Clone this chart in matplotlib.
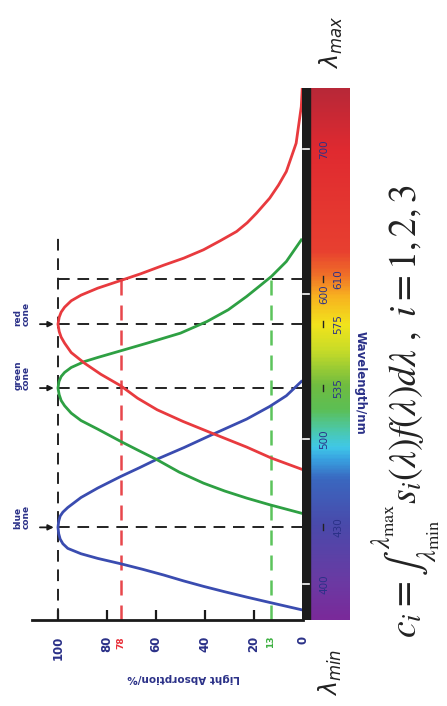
import numpy as np
import matplotlib.pyplot as plt
from matplotlib.colors import LinearSegmentedColormap

# cone sensitivity curves (wavelength nm, absorption %)
blue_wl = [382.1, 387.1, 390.8, 394.5, 398.2, 402.0, 406.0, 410.0, 413.8, 417.5, 420.7, 424.4, 427.6, 430.8,
           434.5, 438.9, 443.2, 446.7, 449.4, 452.6, 459.5, 466.0, 474.0, 480.0, 486.0, 494.0, 502.8,
           513.6, 522.3, 529.7, 539.5]
blue_abs = [0.7, 13.6, 23.0, 32.0, 40.6, 48.8, 56.8, 65.5, 74.4, 83.8, 90.6, 96.0, 98.0, 99.1,
            99.7, 100, 99.7, 99.1, 98.0, 96.0, 90.6, 83.8, 74.4, 66.8, 59.5, 48.5, 37.2,
            23.0, 13.6, 6.8, 0.7]

green_wl = [448.7, 454.5, 459.1, 464.0, 469.4, 477.0, 485.5, 492.0, 498.2, 506.7, 512.6, 517.7, 522.8,
            526.4, 530.4, 535.0, 539.5, 543.0, 545.8, 549.2, 553.3, 556.1, 560.7, 566.0, 572.9, 580.9,
            589.0, 598.2, 605.0, 612.0, 622.3, 637.2]
green_abs = [0.7, 13.6, 23.0, 32.0, 40.6, 50.5, 59.5, 67.2, 74.4, 83.8, 90.6, 94.6, 97.3,
             98.7, 99.5, 100, 99.6, 98.7, 97.3, 94.6, 89.2, 83.8, 74.4, 63.6, 50.0, 39.2,
             30.5, 23.0, 18.0, 12.9, 6.8, 0.7]

red_wl = [479.1, 486.7, 494.3, 503.9, 512.0, 520.0, 528.0, 536.6, 544.5, 552.2, 559.5, 566.0, 570.1,
          574.0, 579.1, 583.9, 587.4, 590.8, 595.2, 599.1, 603.9, 609.2, 613.8, 619.8, 624.6, 630.4,
          636.6, 643.0, 649.0, 655.6, 666.0, 675.0, 684.4, 703.9, 729.2, 742]
red_abs = [0.7, 12.9, 23.0, 37.2, 49.0, 59.5, 67.5, 74.4, 82.5, 89.2, 94.6, 97.3, 98.7,
           99.5, 100, 99.5, 98.7, 97.3, 94.6, 90.6, 83.8, 74.4, 66.3, 56.8, 48.7, 40.6,
           33.8, 27.1, 22.8, 19.0, 13.6, 10.0, 6.8, 2.8, 0.7, 0.3]

# peaks (where they sit on the drawing) and their labels
peak_wl = [438.9, 535.0, 579.1, 610]
peak_lbl = ['430', '535', '575', '610']
cone_wl = [438.9, 535.0, 579.1]
cone_names = ['blue\ncone', 'green\ncone', 'red\ncone']

abs_ticks = [100, 80, 60, 40, 20, 0]
wl_ticks = [400, 500, 600, 700]
red_mark = 74.4
red_mark_lbl = '78'
green_mark = 13.2
green_mark_lbl = '13'

spec_wl = [375, 400, 440, 472, 485, 494, 506, 520, 537, 561, 579, 599, 613, 630, 700, 742]
spec_col = ['#7a2a9a', '#6b3aa3', '#4a4aab', '#3a68c0', '#38a0e0', '#40c8e8', '#4cc8a8', '#5cbf55',
            '#70bc40', '#c8dc28', '#f2e41c', '#f8b020', '#f07028', '#e84030', '#e02a30', '#b82838']

W, H = 447, 706
NAVY = '#2b3188'
WL0, WL1 = 375, 742
AB0 = 110.6

fig = plt.figure(figsize=(W / 100, H / 100), dpi=100)
fig.patch.set_facecolor('white')


def fx(px):
    return px / W


def fy(py):
    return 1 - py / H


ax = fig.add_axes([fx(32), fy(620), fx(303) - fx(32), fy(88) - fy(620)])
ax.set_xlim(AB0, 0)
ax.set_ylim(WL0, WL1)
for s in ['top', 'left', 'right']:
    ax.spines[s].set_visible(False)
ax.spines['bottom'].set_linewidth(2)
ax.spines['bottom'].set_color('#1a1a1a')
ax.set_xticks(abs_ticks[:-1])
ax.set_xticklabels([])
ax.tick_params(axis='x', direction='in', length=7, width=1.6, color='#1a1a1a')
ax.yaxis.tick_right()
ax.set_yticks(wl_ticks)
ax.set_yticklabels([])
ax.tick_params(axis='y', direction='out', length=5, width=1.6, color='#1a1a1a', pad=0)

dash = dict(color='#222222', lw=1.4, dashes=(6, 4))
ax.plot([100, 100], [WL0, 639], **dash)
for w in peak_wl:
    ax.plot([100, 0], [w, w], **dash)

ax.plot([red_mark, red_mark], [WL0, 610], color='#e8474c', lw=1.8, dashes=(6, 4))
ax.plot([green_mark, green_mark], [WL0, 612], color='#5cc45c', lw=1.8, dashes=(6, 4))

ax.plot(blue_abs, blue_wl, color='#3a4cb0', lw=2)
ax.plot(green_abs, green_wl, color='#2ea043', lw=2)
ax.plot(red_abs, red_wl, color='#e83a3e', lw=2)

for w, name in zip(cone_wl, cone_names):
    ax.annotate('', xy=(100.6, w), xytext=(108.5, w), annotation_clip=False,
                arrowprops=dict(arrowstyle='-|>', color='#1a1a1a', lw=1.3, mutation_scale=8))
    ax.text(114.6, w - 1, name, rotation=90, rotation_mode='anchor', ha='left', va='center',
            fontsize=6.5, fontweight='bold', color=NAVY, linespacing=0.9, clip_on=False)

xt = ax.get_xaxis_transform()
for v in abs_ticks:
    ax.text(v, -0.03, str(v), transform=xt, rotation=90, ha='center', va='top',
            fontsize=8.5, fontweight='bold', color=NAVY)
ax.text(red_mark, -0.03, red_mark_lbl, transform=xt, rotation=90, ha='center', va='top',
        fontsize=6.5, fontweight='bold', color='#e8303a')
ax.text(green_mark, -0.03, green_mark_lbl, transform=xt, rotation=90, ha='center', va='top',
        fontsize=6.5, fontweight='bold', color='#3cb040')
fig.text(fx(184), fy(678), 'Light Absorption/%', rotation=180, ha='center', va='center',
         fontsize=7.5, fontweight='bold', color=NAVY)

# black bar + spectrum strip
cb = fig.add_axes([fx(302), fy(620), fx(350) - fx(302), fy(88) - fy(620)])
cmap = LinearSegmentedColormap.from_list(
    'spec', [((w - WL0) / (WL1 - WL0), c) for w, c in zip(spec_wl, spec_col)])
grad = np.linspace(0, 1, 400).reshape(-1, 1)
cb.imshow(grad, cmap=cmap, origin='lower', aspect='auto', extent=(8, 48, WL0, WL1))
cb.axvspan(0, 8, color='#1c1c1c')
for w in wl_ticks:
    cb.plot([1, 7], [w, w], color='white', lw=1.2)
    cb.text(22, w, str(w), rotation=90, ha='center', va='center', fontsize=7.5, color=NAVY)
for w, lbl in zip(peak_wl, peak_lbl):
    cb.plot([20.5, 20.5], [w - 2, w + 2], color='#222222', lw=1)
    cb.text(36, w, lbl, rotation=90, ha='center', va='center', fontsize=7.5, color=NAVY)
cb.set_xlim(0, 48)
cb.set_ylim(WL0, WL1)
cb.axis('off')

fig.text(fx(360), fy(383), 'Wavelength/nm', rotation=-90, ha='center', va='center',
         fontsize=8.5, fontweight='bold', color=NAVY)

fig.text(fx(331), fy(42), r'$\lambda_{max}$', rotation=90, ha='center', va='center',
         fontsize=17, color='#222222', math_fontfamily='dejavusans')
fig.text(fx(330), fy(672), r'$\lambda_{min}$', rotation=90, ha='center', va='center',
         fontsize=17, color='#222222', math_fontfamily='dejavusans')

fig.text(fx(407), fy(411),
         r'$c_i=\int_{\lambda_{\min}}^{\lambda_{\max}}s_i(\lambda)f(\lambda)d\lambda\ ,\ i=1,2,3$',
         rotation=90, ha='center', va='center', fontsize=27, color='#222222',
         math_fontfamily='stix')

fig.savefig('out.png', dpi=100)
